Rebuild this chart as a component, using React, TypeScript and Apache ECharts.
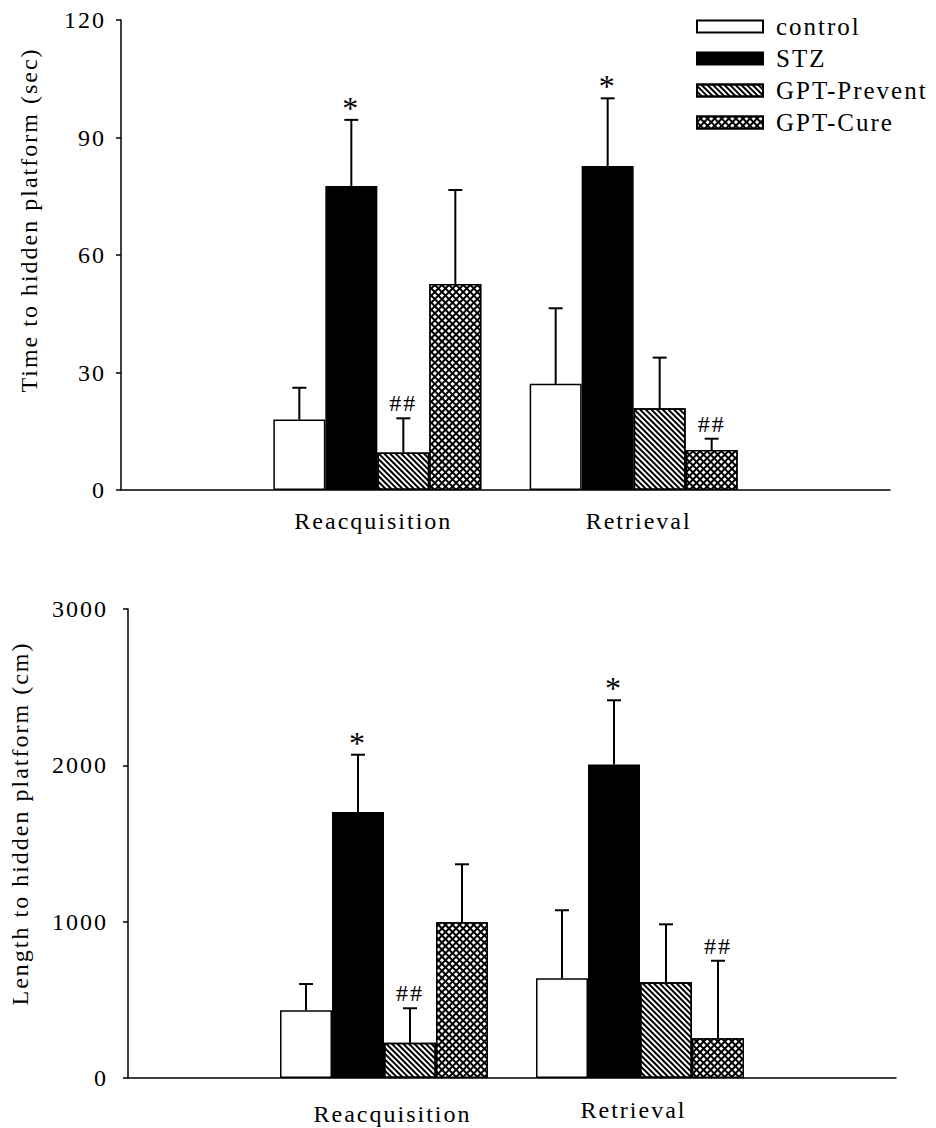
import React, { useEffect, useRef } from "react";
import * as echarts from "echarts";

// ---------- data ----------
const categories = ["", "Reacquisition", "Retrieval", ""];
const groupNames = ["control", "STZ", "GPT-Prevent", "GPT-Cure"];

// Panel A: time to hidden platform (sec) — means for [Reacquisition, Retrieval]
const timeControl = [18, 27.1];
const timeSTZ = [77.6, 82.7];
const timePrevent = [9.6, 20.9];
const timeCure = [52.6, 10.2];
// error (upper SEM) magnitudes
const timeControlErr = [8.1, 19.3];
const timeSTZErr = [16.9, 17.3];
const timePreventErr = [8.7, 12.9];
const timeCureErr = [24, 2.9];

// Panel B: length to hidden platform (cm)
const lenControl = [433, 638];
const lenSTZ = [1701, 2005];
const lenPrevent = [226, 612];
const lenCure = [996, 254];
const lenControlErr = [168, 435];
const lenSTZErr = [367, 411];
const lenPreventErr = [220, 371];
const lenCureErr = [371, 496];

// significance marks per group [Reacquisition, Retrieval]
const marksControl = ["", ""];
const marksSTZ = ["*", "*"];
const marksPrevent = ["##", ""];
const marksCure = ["", "##"];

const timeTicks = { min: 0, max: 120, interval: 30 };
const lenTicks = { min: 0, max: 3000, interval: 1000 };

// ---------- styling ----------
const FONT = "'Liberation Serif', 'Times New Roman', serif";
const FS = 24;
const BAR_W = 52;

const styles = [
  { color: "#fff", borderColor: "#000", borderWidth: 1.5 },
  { color: "#000", borderColor: "#000", borderWidth: 1.5 },
  {
    color: "#fff",
    borderColor: "#000",
    borderWidth: 1.5,
    decal: {
      symbol: "rect",
      symbolSize: 1,
      color: "#000",
      dashArrayX: [1, 0],
      dashArrayY: [2, 2],
      rotation: Math.PI / 4,
    },
  },
  {
    color: "#000",
    borderColor: "#000",
    borderWidth: 1.5,
    decal: {
      symbol: "rect",
      symbolSize: 1,
      color: "#fff",
      dashArrayX: [3, 2],
      dashArrayY: [3, 2],
      rotation: Math.PI / 4,
    },
  },
];

function buildPanel(
  idx: number,
  means: number[][],
  errs: number[][],
  marks: string[][]
) {
  const series: any[] = [];
  means.forEach((m, si) => {
    series.push({
      type: "bar",
      name: groupNames[si],
      xAxisIndex: idx,
      yAxisIndex: idx,
      barWidth: BAR_W,
      barGap: "0%",
      itemStyle: styles[si],
      emphasis: { disabled: true },
      data: ["-", ...m, "-"],
      z: 2,
    });
  });
  means.forEach((m, si) => {
    const e = errs[si];
    const mk = marks[si];
    series.push({
      type: "custom",
      name: groupNames[si],
      xAxisIndex: idx,
      yAxisIndex: idx,
      z: 3,
      silent: true,
      data: m.map((v, k) => [k + 1, v, v + e[k]]),
      renderItem: (params: any, api: any) => {
        const ci = api.value(0);
        const lo = api.coord([ci, api.value(1)]);
        const hi = api.coord([ci, api.value(2)]);
        const x = lo[0] + (si - 1.5) * BAR_W;
        const children: any[] = [
          {
            type: "line",
            shape: { x1: x, y1: lo[1], x2: x, y2: hi[1] },
            style: { stroke: "#000", lineWidth: 2 },
          },
          {
            type: "line",
            shape: { x1: x - 7, y1: hi[1], x2: x + 7, y2: hi[1] },
            style: { stroke: "#000", lineWidth: 2 },
          },
        ];
        const t = mk[params.dataIndex];
        if (t) {
          children.push({
            type: "text",
            x: x,
            y: hi[1] + (t === "*" ? 4 : -3),
            style: {
              text: t,
              fill: "#000",
              fontSize: t === "*" ? 32 : FS,
              fontFamily: FONT,
              align: "center",
              verticalAlign: "bottom",
            },
          });
        }
        return { type: "group", children };
      },
    });
  });
  return series;
}

export default function App() {
  const ref = useRef<HTMLDivElement>(null);
  useEffect(() => {
    if (!ref.current) return;
    const chart = echarts.init(ref.current, undefined, { renderer: "svg" });
    const axisLine = { show: true, lineStyle: { color: "#000", width: 1.5 } };
    const labelStyle = { color: "#000", fontSize: FS, fontFamily: FONT };
    const plain = (v: number) => String(v);
    const xLabelRich = (i: number) => ({
      a: { ...labelStyle, padding: i === 0 ? [0, 8, 0, 0] : [4, 0, 0, 17] },
      b: { ...labelStyle, padding: i === 0 ? [0, 0, 0, 10] : [0, 13, 0, 0] },
    });
    const option: any = {
      animation: false,
      textStyle: { fontFamily: FONT, color: "#000" },
      legend: {
        data: groupNames,
        orient: "vertical",
        left: 691,
        top: 9,
        itemWidth: 66,
        itemHeight: 12,
        itemGap: 7,
        icon: "rect",
        textStyle: {
          color: "#000",
          fontSize: 25,
          fontFamily: FONT,
          lineHeight: 25,
          padding: [0, 0, 0, 8],
        },
        selectedMode: false,
      },
      grid: [
        { left: 121, top: 20, width: 769, height: 470 },
        { left: 127, top: 609, width: 769, height: 469 },
      ],
      xAxis: [0, 1].map((i) => ({
        type: "category",
        gridIndex: i,
        data: categories,
        boundaryGap: false,
        axisLine,
        axisTick: { show: false },
        axisLabel: {
          ...labelStyle,
          interval: 0,
          margin: i === 0 ? 19 : 20,
          formatter: (v: string) =>
            v === "Reacquisition" ? "{a|" + v + "}" : v ? "{b|" + v + "}" : "",
          rich: xLabelRich(i),
        },
        splitLine: { show: false },
      })),
      yAxis: [
        {
          type: "value",
          gridIndex: 0,
          ...timeTicks,
          name: "Time to hidden platform (sec)",
          nameLocation: "middle",
          nameGap: 80,
          nameTextStyle: { ...labelStyle, padding: [0, 0, 0, 70] },
          axisLine,
          axisTick: { show: true, length: 5, lineStyle: { color: "#000", width: 1.5 } },
          axisLabel: { ...labelStyle, margin: 15, formatter: plain },
          splitLine: { show: false },
        },
        {
          type: "value",
          gridIndex: 1,
          ...lenTicks,
          name: "Length to hidden platform (cm)",
          nameLocation: "middle",
          nameGap: 96,
          nameTextStyle: { ...labelStyle, padding: [0, 0, 0, 40] },
          axisLine,
          axisTick: { show: true, length: 5, lineStyle: { color: "#000", width: 1.5 } },
          axisLabel: { ...labelStyle, margin: 20, formatter: plain },
          splitLine: { show: false },
        },
      ],
      series: [
        ...buildPanel(
          0,
          [timeControl, timeSTZ, timePrevent, timeCure],
          [timeControlErr, timeSTZErr, timePreventErr, timeCureErr],
          [marksControl, marksSTZ, marksPrevent, marksCure]
        ),
        ...buildPanel(
          1,
          [lenControl, lenSTZ, lenPrevent, lenCure],
          [lenControlErr, lenSTZErr, lenPreventErr, lenCureErr],
          [marksControl, marksSTZ, marksPrevent, marksCure]
        ),
      ],
    };
    chart.setOption(option);
    return () => chart.dispose();
  }, []);
  return (
    <>
      <style>{`body{margin:0;} .fig text{letter-spacing:2px;}`}</style>
      <div className="fig" ref={ref} style={{ width: 936, height: 1128 }} />
    </>
  );
}
